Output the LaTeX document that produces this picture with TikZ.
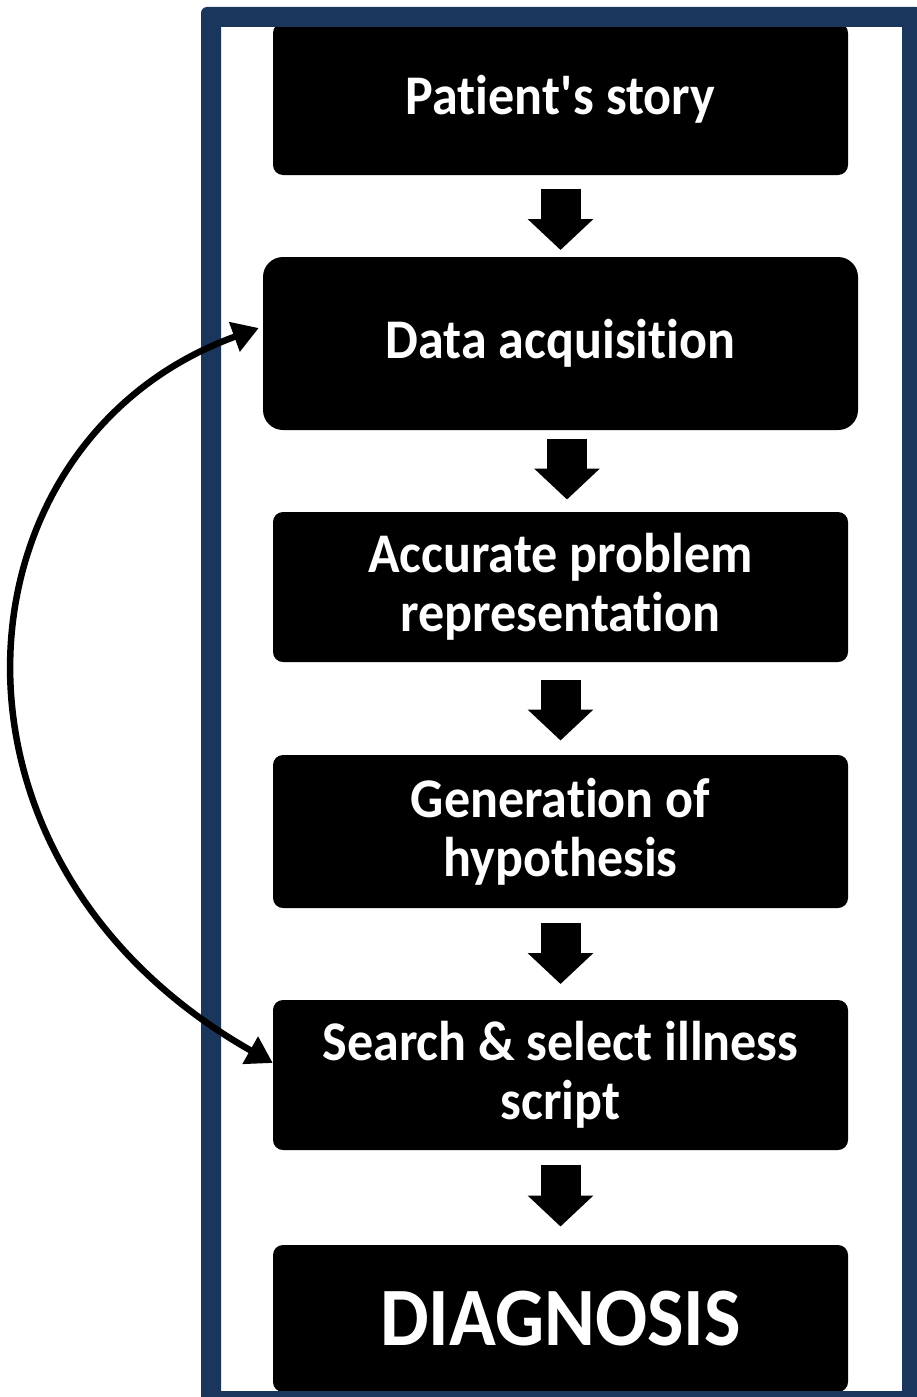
\documentclass[tikz,border=0pt]{standalone}
\usepackage{fontspec}
\setmainfont{Carlito}[FakeStretch=0.93, Ligatures=NoCommon]
\usetikzlibrary{arrows.meta,calc}
\definecolor{framecol}{RGB}{27,54,93}
\begin{document}
\begin{tikzpicture}[x=1pt,y=-1pt,
  stepbox/.style={rectangle, rounded corners=10pt, fill=black, text=white,
    inner sep=0pt, align=center, minimum width=575pt,
    font=\fontsize{56}{59}\selectfont\bfseries},
  downarrow/.style={line width=40pt, -{Triangle[length=31pt,width=64pt]}},
  loop/.style={line width=6.5pt,
    {Triangle[length=26pt,width=30pt]}-{Triangle[length=26pt,width=30pt]}}]
\useasboundingbox (0,0) rectangle (917,1397);
\begin{scope}
\clip (0,0) rectangle (917,1397);

% process steps
\node[stepbox, minimum height=152pt] (story) at (560.5,99) {Patient\textquotesingle s story};
\node[stepbox, minimum width=595pt, minimum height=173pt, rounded corners=20pt]
  (data) at (560.5,343.5) {Data acquisition};
\node[stepbox, minimum height=150pt] (problem) at (560.5,587)
  {Accurate problem\\representation};
\node[stepbox, minimum height=153pt] (hypo) at (560.5,831.5)
  {Generation of\\hypothesis};
\node[stepbox, minimum height=150pt] (search) at (560.5,1075)
  {Search \& select illness\\script};
\node[stepbox, minimum height=147pt, font=\fontsize{83}{85}\selectfont\bfseries]
  (diag) at (560.5,1318.5) {DIAGNOSIS};

% block arrows between consecutive steps
\draw[downarrow] ($(story.south)!0.5!(data.north)+(0,-27)$) -- ($(story.south)!0.5!(data.north)+(0,34)$);
\draw[downarrow] ($(data.south)!0.5!(problem.north)+(6.5,-32.5)$) -- ($(data.south)!0.5!(problem.north)+(6.5,28.5)$);
\draw[downarrow] ($(problem.south)!0.5!(hypo.north)+(0,-29)$) -- ($(problem.south)!0.5!(hypo.north)+(0,32)$);
\draw[downarrow] ($(hypo.south)!0.5!(search.north)+(0,-31)$) -- ($(hypo.south)!0.5!(search.north)+(0,30)$);
\draw[downarrow] ($(search.south)!0.5!(diag.north)+(0,-32.5)$) -- ($(search.south)!0.5!(diag.north)+(0,29)$);

% outer frame
\fill[framecol, even odd rule]
  [rounded corners=6pt] (201,7) rectangle (922,1410)
  [sharp corners] (221,27) rectangle (902,1391);
\end{scope}

% feedback loop
\draw[loop] ([xshift=-4pt,yshift=15.5pt]data.west)
  .. controls +(-309,112) and +(-358,-203) .. ([yshift=12pt]search.west);
\end{tikzpicture}
\end{document}
